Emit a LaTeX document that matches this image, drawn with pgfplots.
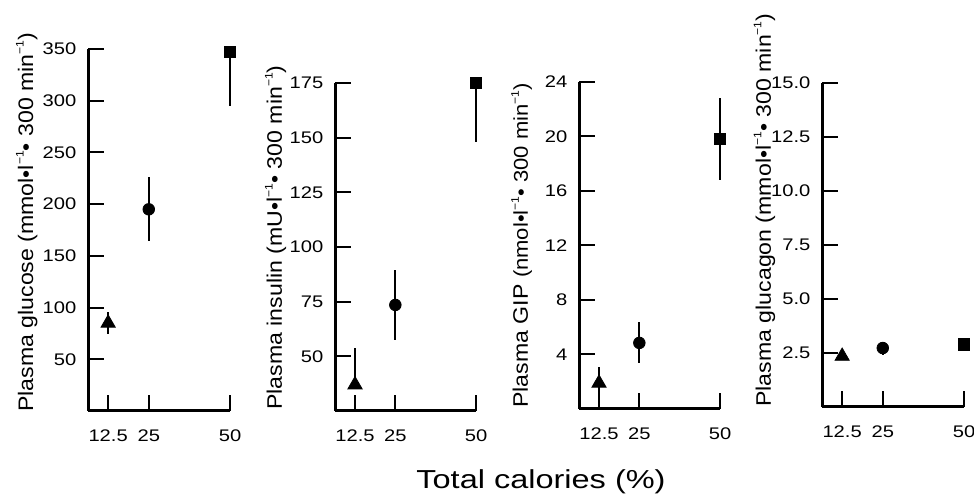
\documentclass[border=0pt]{standalone}
\usepackage{fontspec}
\setmainfont{Liberation Sans}[FakeStretch=1.2]
\newfontfamily\labelfont{Liberation Sans}[FakeStretch=1.1]
\newfontfamily\titlefont{Liberation Sans}[FakeStretch=1.25]
\usepackage{pgfplots}
\pgfplotsset{compat=1.18}

\newcommand{\inv}{\raisebox{0.85ex}{\fontsize{5.5}{6}\selectfont −1}}

\pgfplotsset{
  panel/.style={
    scale only axis, anchor=south west, clip=false,
    axis x line*=bottom, axis y line*=left,
    xtick pos=bottom, ytick pos=left,
    axis line style={-, line width=1.5pt},
    tick align=inside,
    major tick length=8pt,
    tick style={draw=black, line width=1pt},
    xmin=6.3, xmax=50,
    xtick={12.5,25,50}, xticklabels={12.5,25,50},
    /pgf/number format/assume math mode=true,
    tick label style={font=\fontsize{8.4}{10}\selectfont, black},
    xticklabel style={yshift=-6pt},
    yticklabel style={xshift=-2.3pt},
    ylabel style={font=\labelfont\fontsize{10.5}{12}\selectfont, anchor=base west, inner xsep=0pt},
  },
  sem/.style={only marks, black, mark options={fill=black, solid},
    error bars/y dir=both, error bars/y explicit, error bars/error mark=none,
    error bars/error bar style={line width=1pt, black}},
}

\begin{document}
\begin{tikzpicture}
\path[use as bounding box] (0,0) rectangle (487pt,248pt);

% glucose
\begin{axis}[panel, at={(44pt,42.5pt)}, width=71pt, height=181pt,
  ymin=0, ymax=350, ytick={50,100,...,350},
  ylabel={Plasma glucose (mmol•l\inv• 300 min\inv)},
  ylabel style={at={(rel axis cs:-0.387,-0.003)}}]
\addplot[sem, mark=triangle*, mark size=4.1pt] coordinates {(12.5,85) +- (0,11)};
\addplot[sem, mark=*, mark size=2.9pt] coordinates {(25,195) +- (0,31)};
\addplot[sem, error bars/y dir=minus, mark=square*, mark size=2.8pt] coordinates {(50,347) +- (0,52)};
\end{axis}

% insulin
\begin{axis}[panel, at={(167.5pt,42.5pt)}, width=70.5pt, height=164pt,
  ymin=25, ymax=175, ytick={50,75,...,175},
  ylabel={Plasma insulin (mU•l\inv• 300 min\inv)},
  ylabel style={at={(rel axis cs:-0.376,0.003)}}]
\addplot[sem, error bars/y dir=plus, mark=triangle*, mark size=4.1pt] coordinates {(12.5,37) +- (0,17)};
\addplot[sem, mark=*, mark size=2.9pt] coordinates {(25,73.5) +- (0,16)};
\addplot[sem, error bars/y dir=minus, mark=square*, mark size=2.8pt] coordinates {(50,175) +- (0,27)};
\end{axis}

% GIP
\begin{axis}[panel, at={(289.5pt,43.5pt)}, width=70.5pt, height=163.5pt,
  ymin=0, ymax=24, ytick={4,8,...,24},
  ylabel={Plasma GIP {\fontsize{10}{11}\selectfont(nmol•l\inv• 300 min\inv)}},
  ylabel style={at={(rel axis cs:-0.362,0.003)}}]
\addplot[sem, mark=triangle*, mark size=4.1pt] coordinates {(12.5,1.9) +- (0,1.2)};
\addplot[sem, mark=*, mark size=2.9pt] coordinates {(25,4.85) +- (0,1.5)};
\addplot[sem, mark=square*, mark size=2.8pt] coordinates {(50,19.8) +- (0,3.0)};
\end{axis}

% glucagon
\begin{axis}[panel, at={(411pt,44.5pt)}, width=71pt, height=162pt,
  ymin=0, ymax=15, ytick={2.5,5,...,15},
  yticklabel style={/pgf/number format/fixed, /pgf/number format/fixed zerofill, /pgf/number format/precision=1},
  ylabel={Plasma glucagon (mmol•l\inv• 300 min\inv)},
  ylabel style={at={(rel axis cs:-0.36,0)}}]
\addplot[sem, mark=triangle*, mark size=4.1pt] coordinates {(12.5,2.35) +- (0,0.1)};
\addplot[sem, mark=*, mark size=2.9pt] coordinates {(25,2.73) +- (0,0.3)};
\addplot[sem, mark=square*, mark size=2.8pt] coordinates {(50,2.9) +- (0,0.25)};
\end{axis}

\node[anchor=base, font=\titlefont\fontsize{13}{15}\selectfont] at (270.5pt,3.5pt) {Total calories (\%)};
\end{tikzpicture}
\end{document}
